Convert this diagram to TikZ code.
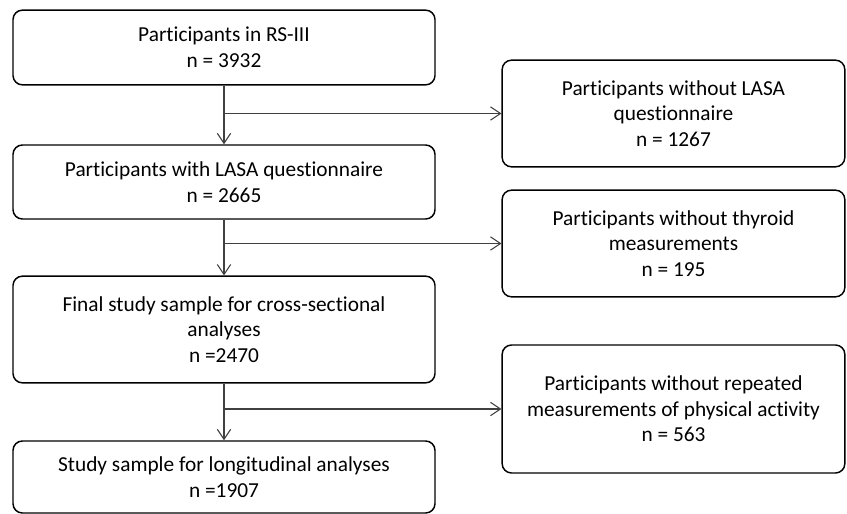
\documentclass[tikz,border=0pt]{standalone}
\usepackage{fontspec}
\setmainfont{Carlito}[Ligatures={NoCommon}]
\usetikzlibrary{arrows.meta}
\begin{document}
\begin{tikzpicture}[x=0.75pt,y=-0.75pt,
  box/.style={draw=black,line width=1.1pt,rounded corners=7pt,align=center,
    font=\fontsize{16}{19.2}\selectfont,inner sep=2pt},
  lbox/.style={box,minimum width=316.5pt},
  rbox/.style={box,minimum width=257pt},
  conn/.style={draw=black!75,line width=0.8pt},
  arr/.style={conn,-{Straight Barb[length=7.5pt,width=10pt,line width=0.8pt]}}]
\useasboundingbox (0,0) rectangle (847,514);
\node[lbox,minimum height=56pt] (b1) at (224,47.5) {Participants in RS-III\\n = 3932};
\node[lbox,minimum height=55.5pt] (b2) at (224,182) {Participants with LASA questionnaire\\n = 2665};
\node[lbox,minimum height=80pt] (b3) at (224,329.5) {Final study sample for cross-sectional\\analyses\\n =2470};
\node[lbox,minimum height=54pt] (b4) at (224,477) {Study sample for longitudinal analyses\\n =1907};
\node[rbox,minimum height=80pt] (r1) at (673.5,113.5) {Participants without LASA\\questionnaire\\n = 1267};
\node[rbox,minimum height=80pt] (r2) at (673.5,243.5) {Participants without thyroid\\measurements\\n = 195};
\node[rbox,minimum height=96pt] (r3) at (673.5,409) {Participants without repeated\\measurements of physical activity\\n = 563};
\draw[arr] (b1.south) -- (b2.north);
\draw[arr] (b2.south) -- (b3.north);
\draw[arr] (b3.south) -- (b4.north);
\draw[arr] (b1.south |- r1.west) -- (r1.west);
\draw[arr] (b2.south |- r2.west) -- (r2.west);
\draw[arr] (b3.south |- r3.west) -- (r3.west);
\end{tikzpicture}
\end{document}
